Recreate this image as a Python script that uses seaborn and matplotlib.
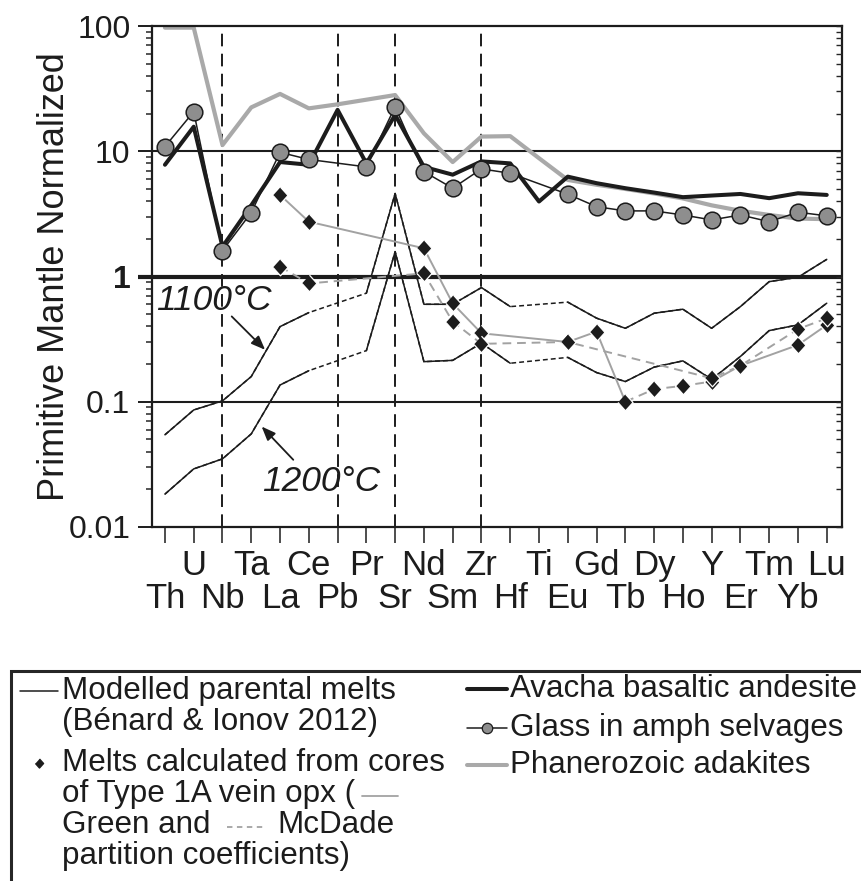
import numpy as np
import pandas as pd
import matplotlib
matplotlib.use("Agg")
import matplotlib.pyplot as plt
from matplotlib.lines import Line2D
from matplotlib.patches import Rectangle
import seaborn as sns

nan = np.nan

# Trace elements, in spider-diagram order
elements = ["Th", "U", "Nb", "Ta", "La", "Ce", "Pb", "Pr", "Sr", "Nd", "Sm", "Zr",
            "Hf", "Ti", "Eu", "Gd", "Tb", "Dy", "Ho", "Y", "Er", "Tm", "Yb", "Lu"]

# Primitive-mantle normalised concentrations
adakites = [97, 97, 11.2, 22.4, 28.7, 22.0, 23.7, 25.8, 28.1, 13.9, 8.2, 13.1,
            13.2, 8.8, 5.9, 5.4, 5.0, 4.6, 4.2, 3.7, 3.35, 3.1, 2.9, 2.87]
avacha = [7.8, 15.7, 1.73, 3.7, 8.2, 7.8, 21.4, 8.0, 19.5, 7.5, 6.5, 8.3,
          8.0, 3.97, 6.27, 5.56, 5.07, 4.68, 4.3, 4.43, 4.56, 4.22, 4.62, 4.48]
glass = [10.9, 20.7, 1.61, 3.24, 9.8, 8.6, nan, 7.5, 22.7, 6.87, 5.07, 7.23,
         6.67, nan, 4.54, 3.61, 3.34, 3.34, 3.1, 2.83, 3.1, 2.74, 3.26, 3.05]
melt_1100 = [0.0545, 0.086, 0.1016, 0.159, 0.398, 0.515, nan, 0.736, 4.6, 0.60, 0.60, 0.816,
             0.575, nan, 0.624, 0.465, 0.386, 0.509, 0.548, 0.386, 0.575, 0.91, 0.986, 1.37]
melt_1200 = [0.0183, 0.0291, 0.035, 0.0554, 0.136, 0.177, nan, 0.256, 1.58, 0.209, 0.214, 0.294,
             0.203, nan, 0.226, 0.171, 0.145, 0.189, 0.212, 0.151, 0.23, 0.37, 0.411, 0.612]
opx_green = [nan, nan, nan, nan, 4.48, 2.74, nan, nan, nan, 1.68, 0.61, 0.352,
             nan, nan, 0.30, 0.363, 0.100, 0.126, 0.134, 0.145, 0.194, nan, 0.284, 0.41]
opx_mcdade = [nan, nan, nan, nan, 1.2, 0.88, nan, nan, nan, 1.06, 0.436, 0.29,
              nan, nan, 0.30, nan, nan, nan, nan, 0.154, 0.194, nan, 0.38, 0.464]
# stretch of the Green-coefficient melt that is drawn with a broken line
green_dashed_run = ("Tb", "Y")

y_ticks = [0.01, 0.1, 1, 10, 100]
guide_elements = ["Nb", "Pb", "Sr", "Zr"]

df = pd.DataFrame({
    "element": elements, "pos": np.arange(len(elements)),
    "adakites": adakites, "avacha": avacha, "glass": glass,
    "melt_1100": melt_1100, "melt_1200": melt_1200,
    "opx_green": opx_green, "opx_mcdade": opx_mcdade,
})

sns.set_theme(style="ticks")
plt.rcParams["font.family"] = ["Liberation Sans", "DejaVu Sans"]
ink = "#1c1c1c"
grey_thick = "#a9a9a9"
grey_thin = "#a2a2a2"
plt.rcParams["text.color"] = ink

W, H = 862, 881
fig = plt.figure(figsize=(W / 100, H / 100), dpi=100)
ax = fig.add_axes([152 / W, 1 - 527 / H, 690 / W, 501 / H])
ax.set_yscale("log")

diamond = [(0, 1), (0.9, 0), (0, -1), (-0.9, 0)]
diamond_style = dict(marker=diamond, markersize=12, markerfacecolor=ink,
                     markeredgecolor="white", markeredgewidth=0.9, linestyle="none")

# reference lines
for v, lw in [(10, 1.5), (1, 3.0), (0.1, 1.5)]:
    ax.axhline(v, color=ink, lw=lw, zorder=1)
for el in guide_elements:
    ax.axvline(elements.index(el), color=ink, lw=1.4, ls=(0, (6.5, 3.8)), zorder=1)

# Phanerozoic adakites
sns.lineplot(data=df, x="pos", y="adakites", color=grey_thick, lw=3.0, ax=ax, zorder=2)

# modelled parental melts: dashed bridge across missing elements, solid elsewhere
for col in ["melt_1100", "melt_1200"]:
    sub = df.dropna(subset=[col])
    ax.plot(sub["pos"], sub[col], color=ink, lw=1.1, ls=(0, (3.2, 2.0)), zorder=3)
    ax.plot(df["pos"], df[col], color=ink, lw=1.1, zorder=3.1)

# Avacha basaltic andesite
sns.lineplot(data=df, x="pos", y="avacha", color=ink, lw=2.9, ax=ax, zorder=4)

# glass in amphibole selvages
gsub = df.dropna(subset=["glass"])
sns.lineplot(data=gsub, x="pos", y="glass", color=ink, lw=1.1, marker="o",
             markersize=12, markerfacecolor="#8e8e8e", markeredgecolor=ink,
             markeredgewidth=1.1, ax=ax, zorder=5)

# melts from Type 1A vein opx cores (Green coefficients)
gr = df.dropna(subset=["opx_green"]).reset_index(drop=True)
i0 = gr.index[gr["element"] == green_dashed_run[0]][0]
i1 = gr.index[gr["element"] == green_dashed_run[1]][0]
ax.plot(gr["pos"][: i0 + 1], gr["opx_green"][: i0 + 1], color=grey_thin, lw=1.4, zorder=5.5)
ax.plot(gr["pos"][i1:], gr["opx_green"][i1:], color=grey_thin, lw=1.4, zorder=5.5)
ax.plot(gr["pos"][i0: i1 + 1], gr["opx_green"][i0: i1 + 1], color=grey_thin, lw=1.4,
        ls=(0, (4.5, 3.0)), zorder=5.5)
ax.plot(gr["pos"], gr["opx_green"], zorder=6, **diamond_style)

# melts from Type 1A vein opx cores (McDade coefficients)
mc = df.dropna(subset=["opx_mcdade"])
ax.plot(mc["pos"], mc["opx_mcdade"], color=grey_thin, lw=1.4, ls=(0, (4.5, 3.0)), zorder=6.5)
ax.plot(mc["pos"], mc["opx_mcdade"], zorder=7, **diamond_style)

# temperature labels
ax.annotate("", xy=(3.48, 0.26), xytext=(2.32, 0.48),
            arrowprops=dict(arrowstyle="-|>,head_length=0.7,head_width=0.28",
                            color=ink, lw=1.3, shrinkA=0, shrinkB=0), zorder=8)
ax.text(1.71, 0.64, "1100°C", fontsize=25.5, style="italic", ha="center", va="center", zorder=8)
ax.annotate("", xy=(3.36, 0.0634), xytext=(4.46, 0.0344),
            arrowprops=dict(arrowstyle="-|>,head_length=0.7,head_width=0.28",
                            color=ink, lw=1.3, shrinkA=0, shrinkB=0), zorder=8)
ax.text(5.44, 0.023, "1200°C", fontsize=25.5, style="italic", ha="center", va="center", zorder=8)

# axes styling
ax.set_xlim(-0.45, len(elements) - 0.47)
ax.set_ylim(0.01, 100)
ax.set_yticks(y_ticks)
ax.set_yticklabels([f"{v:g}" for v in y_ticks])
ax.yaxis.set_minor_formatter(matplotlib.ticker.NullFormatter())
ax.set_xticks(df["pos"][1::2], labels=elements[1::2])
ax.set_xticks(df["pos"][0::2], labels=elements[0::2], minor=True)
ax.tick_params(axis="x", which="both", direction="out", length=11.5, width=1.1,
               labelsize=25, colors=ink)
ax.tick_params(axis="x", which="major", pad=4)
ax.tick_params(axis="x", which="minor", pad=28)
ax.tick_params(axis="y", which="major", direction="out", length=10, width=1.4,
               labelsize=23, pad=5.5, colors=ink)
ax.tick_params(axis="y", which="minor", direction="out", length=4, width=1.1)
# the unit line is emphasised, so is its tick and label
unit_idx = y_ticks.index(1)
ax.yaxis.get_major_ticks()[unit_idx].tick1line.set_markeredgewidth(3.0)
ax.get_yticklabels()[unit_idx].set_fontweight("bold")
ax.set_xlabel("")
ax.set_ylabel("Primitive Mantle Normalized", fontsize=26, color=ink)
ax.yaxis.set_label_coords(-0.116, 0.5)
for sp in ax.spines.values():
    sp.set_linewidth(1.6)
    sp.set_color(ink)

# inward ticks on the right-hand side
axr = ax.twinx()
axr.set_yscale("log")
axr.set_ylim(0.01, 100)
axr.set_yticks(y_ticks)
axr.tick_params(axis="y", which="both", direction="in", length=4.3, width=1.0,
                labelright=False)
axr.yaxis.set_minor_formatter(matplotlib.ticker.NullFormatter())
axr.set_ylabel("")
axr.grid(False)
for sp in axr.spines.values():
    sp.set_visible(False)


# legend box drawn in figure pixel coordinates
def fx(px):
    return px / W


def fy(py):
    return 1 - py / H


fig.patches.append(Rectangle((fx(11), fy(940)), fx(960), (940 - 670.7) / H,
                             transform=fig.transFigure, fill=False, lw=2.2,
                             edgecolor="#262626", clip_on=False))
lfs = 22.6


def seg(x0, x1, y, **kw):
    fig.lines.append(Line2D([fx(x0), fx(x1)], [fy(y), fy(y)], transform=fig.transFigure, **kw))


seg(20, 58, 691, color=ink, lw=1.1)
fig.text(fx(62), fy(691), "Modelled parental melts", fontsize=lfs, va="center")
fig.text(fx(62), fy(722), "(Bénard & Ionov 2012)", fontsize=lfs, va="center")
fig.lines.append(Line2D([fx(39)], [fy(763)], transform=fig.transFigure, marker=diamond,
                        markersize=6.5, color=ink, lw=0))
fig.text(fx(62), fy(763), "Melts calculated from cores", fontsize=lfs, va="center")
fig.text(fx(62), fy(794), "of Type 1A vein opx (", fontsize=lfs, va="center")
seg(362, 398, 796, color=grey_thin, lw=1.3)
fig.text(fx(62), fy(825), "Green and", fontsize=lfs, va="center")
seg(227, 265, 827, color=grey_thin, lw=1.3, ls=(0, (3.0, 2.5)))
fig.text(fx(277), fy(825), "McDade", fontsize=lfs, va="center")
fig.text(fx(62), fy(856), "partition coefficients)", fontsize=lfs, va="center")

seg(467, 507, 689, color=ink, lw=2.9)
fig.text(fx(510), fy(689), "Avacha basaltic andesite", fontsize=lfs, va="center")
seg(467, 507, 728, color=ink, lw=1.1)
fig.lines.append(Line2D([fx(487)], [fy(728)], transform=fig.transFigure, marker="o",
                        markersize=7.5, markerfacecolor="#8e8e8e", markeredgecolor=ink,
                        markeredgewidth=0.9, lw=0))
fig.text(fx(510), fy(728), "Glass in amph selvages", fontsize=lfs, va="center")
seg(467, 507, 765, color=grey_thick, lw=2.9)
fig.text(fx(510), fy(765), "Phanerozoic adakites", fontsize=lfs, va="center")

fig.savefig("out.png", dpi=100)
